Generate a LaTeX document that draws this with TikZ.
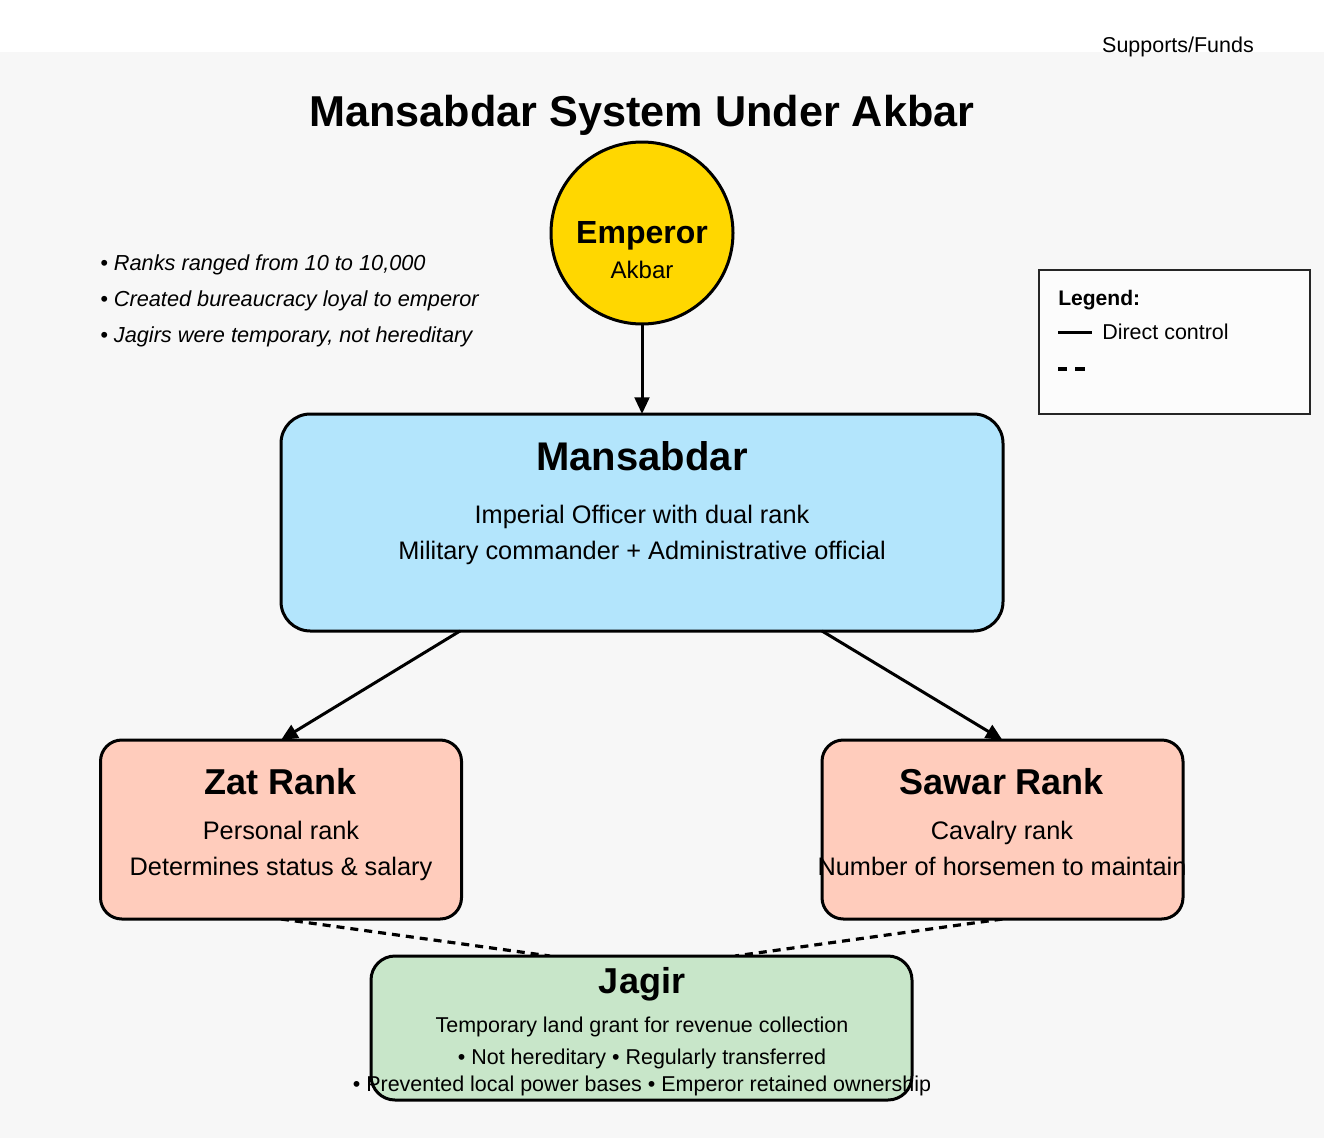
\documentclass[tikz,border=0pt]{standalone}
\usepackage{fontspec}
\setmainfont{Liberation Sans}
\usetikzlibrary{arrows.meta,positioning,calc}
\definecolor{bggray}{HTML}{F7F7F7}
\definecolor{empgold}{HTML}{FFD700}
\definecolor{mansblue}{HTML}{B3E5FC}
\definecolor{rankpink}{HTML}{FFCCBC}
\definecolor{jagirgreen}{HTML}{C8E6C9}
\pgfdeclarelayer{bg}
\pgfsetlayers{bg,main}
\tikzset{
  box/.style={draw=black, line width=2.25pt, inner sep=0pt, outer sep=0pt},
  ctrl/.style={line width=2.25pt, -{Triangle[length=12.5pt,width=11pt]}},
  supp/.style={line width=2.4pt, dash pattern=on 6pt off 4.5pt},
  lbl/.style={inner sep=0pt, anchor=base},
  hd/.style={lbl, font=\bfseries\fontsize{27}{32}\selectfont},
  bd/.style={lbl, font=\fontsize{19}{23}\selectfont},
  sm/.style={lbl, font=\fontsize{16.1}{19}\selectfont},
  note/.style={lbl, anchor=base west, font=\itshape\fontsize{16.3}{19}\selectfont}
}
\begin{document}
\begin{tikzpicture}[x=0.75pt,y=-0.75pt]
\useasboundingbox (0,0) rectangle (1324,1138);
\begin{pgfonlayer}{bg}
\fill[white] (0,0) rectangle (1324,1138);
\fill[bggray] (0,52) rectangle (1324,1138);
\end{pgfonlayer}
\node[sm] (supp) at (1178,53) {Supports/Funds};
\node[lbl, font=\bfseries\fontsize{32.4}{38}\selectfont] (title) at (642,127) {Mansabdar System Under Akbar};
\node[note] (n1) at (100,270) {• Ranks ranged from 10 to 10,000};
\node[note] (n2) at (100,306) {• Created bureaucracy loyal to emperor};
\node[note] (n3) at (100,342) {• Jagirs were temporary, not hereditary};
\node[box, draw=black!85, line width=1.1pt, fill=white!99!black, minimum width=203.25pt, minimum height=108pt] (legend) at (1174.5,342) {};
\node[lbl, anchor=base west, font=\bfseries\fontsize{15.8}{18}\selectfont] (legtitle) at (1058,305) {Legend:};
\coordinate (l1a) at (1058,332);
\coordinate (l1b) at (1092,332);
\draw[line width=2.25pt] (l1a) -- (l1b);
\node[sm, anchor=base west] (legctrl) at (1102,339) {Direct control};
\coordinate (l2a) at (1058,369);
\coordinate (l2b) at (1085,369);
\draw[line width=3pt, dash pattern=on 7pt off 6pt] (l2a) -- (l2b);
\node[box, circle, fill=empgold, minimum size=136.5pt] (emperor) at (642,233) {};
\node[lbl, font=\bfseries\fontsize{24}{29}\selectfont] (empname) at (642,243) {Emperor};
\node[lbl, font=\fontsize{18}{22}\selectfont] (empsub) at (642,278) {Akbar};
\node[box, rounded corners=22pt, fill=mansblue, minimum width=541.5pt, minimum height=162.75pt] (mansabdar) at (642,522.5) {};
\node[lbl, font=\bfseries\fontsize{30}{36}\selectfont] (manshd) at (642,470) {Mansabdar};
\node[bd] (mans1) at (642,523) {Imperial Officer with dual rank};
\node[bd] (mans2) at (642,559) {Military commander + Administrative official};
\node[box, rounded corners=16pt, fill=rankpink, minimum width=270.75pt, minimum height=134.25pt] (zat) at (281,829.5) {};
\node[hd] (zathd) at (281,794) {Zat Rank};
\node[bd] (zat1) at (281,839) {Personal rank};
\node[bd] (zat2) at (281,875) {Determines status \& salary};
\node[box, draw=none, rounded corners=16pt, fill=rankpink, minimum width=270.75pt, minimum height=134.25pt] (sawar) at (1002.5,829.5) {};
\node[hd] (sawarhd) at (1002,794) {Sawar Rank};
\node[bd] (sawar1) at (1002,839) {Cavalry rank};
\node[bd] (sawar2) at (1002,875) {Number of horsemen to maintain};
\draw[line width=2.25pt, rounded corners=16pt] (sawar.south west) rectangle (sawar.north east);
\node[box, draw=none, rounded corners=18pt, fill=jagirgreen, minimum width=405.75pt, minimum height=108pt] (jagir) at (641.5,1028) {};
\node[hd] (jagirhd) at (642,993) {Jagir};
\node[sm] (jag1) at (642,1032) {Temporary land grant for revenue collection};
\node[sm] (jag2) at (642,1064) {• Not hereditary • Regularly transferred};
\node[sm] (jag3) at (642,1091) {• Prevented local power bases • Emperor retained ownership};
\draw[line width=2.25pt, rounded corners=18pt] (jagir.south west) rectangle (jagir.north east);
\begin{pgfonlayer}{bg}
\draw[supp] (zat.south) -- ($(jagir.north west)+(179,0)$);
\draw[supp] (sawar.south) -- ($(jagir.north east)+(-177,0)$);
\end{pgfonlayer}
\draw[ctrl] (emperor.south) -- (mansabdar.north);
\draw[ctrl] ($(mansabdar.south west)+(179,0)$) -- (zat.north);
\draw[ctrl] ($(mansabdar.south east)+(-181,0)$) -- (sawar.north);
\end{tikzpicture}
\end{document}
